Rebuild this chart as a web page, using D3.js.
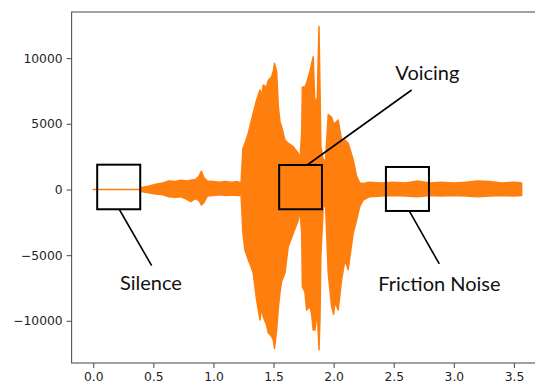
<!DOCTYPE html>
<html>
<head>
<meta charset="utf-8">
<script src="https://cdn.jsdelivr.net/npm/d3@7"></script>
<style>
  body { margin: 0; background: #fff; }
  svg { display: block; }
  .tick text { font-family: "DejaVu Sans", sans-serif; font-size: 12.3px; fill: #222; }
  .note { font-family: Lato, "Open Sans", sans-serif; font-size: 20px; fill: #111; }
</style>
</head>
<body>
<svg id="chart"></svg>
<script>
// waveform envelope (time in s, amplitude)
const times = [0.00, 0.38, 0.40, 0.46, 0.52, 0.58, 0.63, 0.68, 0.73, 0.78, 0.81, 0.85, 0.88, 0.90, 0.92, 0.95,
  1.00, 1.05, 1.10, 1.15, 1.20, 1.23, 1.245, 1.262, 1.29, 1.31, 1.331, 1.359, 1.387, 1.40, 1.414, 1.442,
  1.456, 1.484, 1.498, 1.508, 1.526, 1.540, 1.553, 1.567, 1.595, 1.622, 1.664, 1.706, 1.720, 1.734, 1.740,
  1.761, 1.775, 1.803, 1.817, 1.830, 1.844, 1.864, 1.878, 1.886, 1.894, 1.914, 1.933, 1.955, 1.983, 2.000,
  2.011, 2.038, 2.066, 2.094, 2.121, 2.163, 2.191, 2.217, 2.246, 2.30, 2.40, 2.50, 2.60, 2.70, 2.80, 2.90,
  3.00, 3.10, 3.20, 3.30, 3.40, 3.50, 3.564];
const upper = [0, 0, 150, 250, 400, 500, 650, 600, 700, 650, 700, 750, 1000, 1400, 900, 650,
  600, 550, 600, 550, 600, 500, 3100, 3500, 4280, 5040, 5800, 6800, 7570, 7100, 7950, 7800,
  8300, 8580, 9000, 9600, 8960, 6300, 5200, 4780, 3770, 3520, 3260, 2750, 2250, 4300, 7800,
  7820, 8100, 9000, 9570, 10100, 6500, 7000, 12400, 8000, 3260, 2250, 2250, 5700, 5500, 5000,
  5040, 5280, 3770, 3770, 3520, 2250, 1000, 500, 450, 550, 500, 550, 500, 650, 500, 550,
  500, 550, 650, 600, 500, 550, 500];
const lower = [0, 0, -150, -250, -350, -400, -550, -600, -550, -750, -930, -700, -850, -1180, -1000, -500,
  -450, -400, -450, -420, -450, -450, -3300, -4600, -5360, -5800, -6350, -8400, -9930, -9000, -9680, -10300,
  -10900, -11200, -11450, -12100, -10700, -9000, -7880, -7000, -6350, -4350, -3330, -2320, -1560, -3300, -7400,
  -7800, -9170, -8900, -9500, -10700, -10700, -9300, -12200, -10000, -5000, -1300, -1300, -6350, -8900, -9500,
  -8600, -9170, -6890, -5370, -6100, -3310, -2320, -1300, -800, -550, -500, -450, -500, -550, -450, -500,
  -450, -500, -550, -500, -450, -500, -450];

const xTicks = [0, 0.5, 1.0, 1.5, 2.0, 2.5, 3.0, 3.5];
const yTicks = [-10000, -5000, 0, 5000, 10000];

// annotation boxes [t0, t1, v0, v1], leader lines and labels, in data units
const noteLabels = ["Silence", "Voicing", "Friction Noise"];
const noteBoxes = [[0.033, 0.391, 1887, -1507], [1.547, 1.903, 1864, -1507], [2.435, 2.793, 1712, -1636]];
const noteLines = [[0.216, -1507, 0.486, -5799], [1.780, 1864, 2.649, 7572], [2.629, -1636, 2.879, -5669]];
const notePos = [[0.48, -7650], [2.78, 8330], [2.88, -7700]];

const W = 535, H = 385;
const svg = d3.select("#chart").attr("width", W).attr("height", H);

const x = d3.scaleLinear().domain([-0.18, 3.74]).range([71.6, 71.6 + 3.92 * 120.2]);
const y = d3.scaleLinear().domain([-13210, 13510]).range([363, 12]);

const data = times.map((t, i) => ({t, hi: upper[i], lo: lower[i]}));

// waveform
const area = d3.area()
  .x(d => x(d.t))
  .y0(d => y(d.lo))
  .y1(d => y(d.hi));
svg.append("path")
  .datum(data)
  .attr("d", area)
  .attr("fill", "#ff7f0e")
  .attr("stroke", "#ff7f0e")
  .attr("stroke-width", 1.5)
  .attr("stroke-linejoin", "round");

// frame
svg.append("rect")
  .attr("x", x.range()[0]).attr("y", 12)
  .attr("width", x.range()[1] - x.range()[0]).attr("height", 351)
  .attr("fill", "none").attr("stroke", "#555").attr("stroke-width", 1.1);

const xAxis = svg.append("g")
  .attr("transform", "translate(0,363)")
  .call(d3.axisBottom(x).tickValues(xTicks).tickFormat(d3.format(".1f")).tickSize(5).tickPadding(4));
const yAxis = svg.append("g")
  .attr("transform", `translate(${x.range()[0]},0)`)
  .call(d3.axisLeft(y).tickValues(yTicks).tickFormat(d => d < 0 ? "\u2212" + Math.abs(d) : d).tickSize(5).tickPadding(4));
[xAxis, yAxis].forEach(a => {
  a.select(".domain").remove();
  a.selectAll(".tick line").attr("stroke", "#555").attr("stroke-width", 1.1);
});

// annotations
const notes = svg.append("g");
noteBoxes.forEach(b => {
  notes.append("rect")
    .attr("x", x(b[0])).attr("y", y(b[2]))
    .attr("width", x(b[1]) - x(b[0])).attr("height", y(b[3]) - y(b[2]))
    .attr("fill", "none").attr("stroke", "#000").attr("stroke-width", 2);
});
noteLines.forEach(l => {
  notes.append("line")
    .attr("x1", x(l[0])).attr("y1", y(l[1]))
    .attr("x2", x(l[2])).attr("y2", y(l[3]))
    .attr("stroke", "#000").attr("stroke-width", 1.6);
});
noteLabels.forEach((s, i) => {
  notes.append("text").attr("class", "note")
    .attr("x", x(notePos[i][0])).attr("y", y(notePos[i][1]))
    .attr("text-anchor", "middle")
    .text(s);
});
</script>
</body>
</html>
